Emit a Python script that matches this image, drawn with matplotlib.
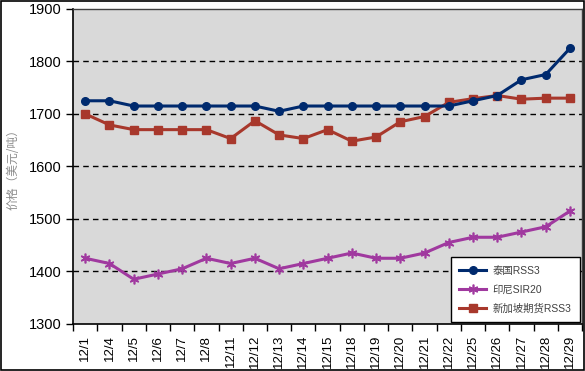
import matplotlib
matplotlib.use("Agg")
import matplotlib.pyplot as plt
from matplotlib.patches import Rectangle
import numpy as np

plt.rcParams['font.family'] = ['Liberation Sans', 'Noto Sans CJK SC', 'DejaVu Sans']

# 日期
dates = ["12/1", "12/4", "12/5", "12/6", "12/7", "12/8", "12/11", "12/12", "12/13",
         "12/14", "12/15", "12/18", "12/19", "12/20", "12/21", "12/22", "12/25",
         "12/26", "12/27", "12/28", "12/29"]

# 价格（美元/吨）
thai_rss3 = [1725, 1725, 1715, 1715, 1715, 1715, 1715, 1715, 1705, 1715, 1715,
             1715, 1715, 1715, 1715, 1715, 1725, 1735, 1765, 1775, 1825]
indo_sir20 = [1425, 1415, 1385, 1395, 1405, 1425, 1415, 1425, 1405, 1415, 1425,
              1435, 1425, 1425, 1435, 1455, 1465, 1465, 1475, 1485, 1515]
sgx_rss3 = [1700, 1679, 1670, 1670, 1670, 1670, 1653, 1687, 1660, 1653, 1670,
            1648, 1656, 1685, 1695, 1722, 1729, 1735, 1728, 1730, 1730]

labels = ["泰国RSS3", "印尼SIR20", "新加坡期货RSS3"]

fig = plt.figure(figsize=(5.85, 3.71), dpi=100)
ax = fig.add_axes([0.125, 0.127, 0.87, 0.849])
ax.set_facecolor('#d9d9d9')

x = np.arange(len(dates))
ax.plot(x, thai_rss3, color='#002a6e', marker='o', markersize=5.5, linewidth=2.2,
        label=labels[0], zorder=4)
ax.plot(x, indo_sir20, color='#a0399f', marker=(6, 2, 0), markersize=7, linewidth=2.2,
        markeredgewidth=1.2, label=labels[1], zorder=3)
ax.plot(x, sgx_rss3, color='#a8382c', marker='s', markersize=5.5, linewidth=2.2,
        label=labels[2], zorder=3)

ax.set_xlim(-0.5, len(dates) - 0.5)
ax.set_ylim(1300, 1900)
ax.set_yticks(range(1300, 2000, 100))
for yv in range(1400, 1900, 100):
    ax.axhline(yv, color='black', linestyle=(0, (4, 3)), linewidth=1.0, zorder=1)

ax.set_xticks(x)
ax.set_xticklabels(dates, rotation=90, fontsize=9.5)
ax.set_xticks(np.arange(-0.5, len(dates), 1), minor=True)
ax.tick_params(axis='x', which='major', length=0, pad=8)
ax.tick_params(axis='x', which='minor', length=5, width=1, direction='out')
ax.tick_params(axis='y', labelsize=10.5, length=5, width=1, direction='out')

for side in ['top', 'right']:
    ax.spines[side].set_color('#404040')
    ax.spines[side].set_linewidth(1.0)
for side in ['left', 'bottom']:
    ax.spines[side].set_color('black')
    ax.spines[side].set_linewidth(1.2)

ax.set_ylabel("价格（美元/吨）", color='#8c8c8c', fontsize=8.5,
              family=['Noto Sans CJK SC', 'DejaVu Sans'])
ax.yaxis.set_label_coords(-0.106, 0.5)

leg = ax.legend(loc='lower right', fontsize=7.5, frameon=True, fancybox=False,
                edgecolor='black', framealpha=1, borderpad=0.8, labelspacing=0.85,
                handlelength=2.6, handletextpad=0.6, borderaxespad=0,
                bbox_to_anchor=(0.995, 0.006))
leg.get_frame().set_linewidth(1.0)
for t in leg.get_texts():
    t.set_color('#404040')

fig.patches.append(Rectangle((0.001, 0.002), 0.997, 0.996, transform=fig.transFigure,
                             fill=False, edgecolor='black', linewidth=1.2))

fig.savefig("out.png", dpi=100)
